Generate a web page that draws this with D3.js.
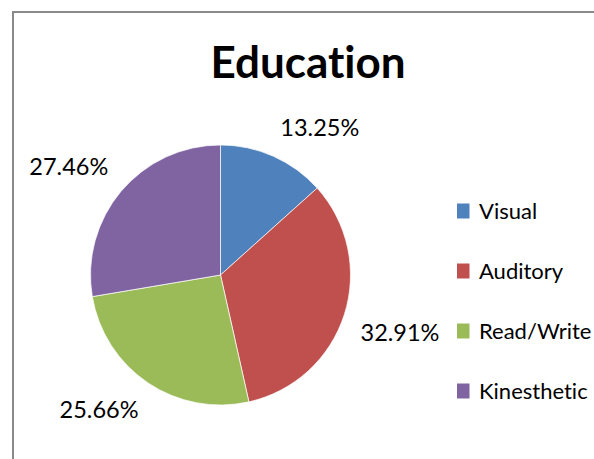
<!DOCTYPE html>
<html>
<head>
<meta charset="utf-8">
<script src="https://cdn.jsdelivr.net/npm/d3@7"></script>
<style>
  html, body { margin: 0; padding: 0; background: #fff; }
  svg { display: block; font-family: Lato, "Open Sans", sans-serif; font-variant-ligatures: none; }
</style>
</head>
<body>
<div id="chart"></div>
<script>
// Education - learning style pie
const categories = ['Visual', 'Auditory', 'Read/Write', 'Kinesthetic'];
const shares = [13.25, 32.91, 25.66, 27.46];
const sliceColors = ['#4F81BD', '#C0504D', '#9BBB59', '#8064A2'];

const width = 594, height = 459;
const cx = 220.5, cy = 275, radius = 130;

const data = categories.map((c, i) => ({ name: c, value: shares[i] }));

const svg = d3.select('#chart').append('svg')
    .attr('width', width)
    .attr('height', height);

// chart area frame (cropped on right and bottom)
svg.append('rect')
    .attr('x', 13)
    .attr('y', 12)
    .attr('width', width + 20)
    .attr('height', height + 20)
    .attr('fill', '#fff')
    .attr('stroke', '#8a8a8a')
    .attr('stroke-width', 2);

svg.append('text')
    .attr('x', 308)
    .attr('y', 78)
    .attr('text-anchor', 'middle')
    .style('font-size', '44px')
    .style('font-weight', '700')
    .style('fill', '#000')
    .text('Education');

const color = d3.scaleOrdinal().domain(categories).range(sliceColors);

const pie = d3.pie().sort(null).value(d => d.value);
const arcs = pie(data);
const arc = d3.arc().innerRadius(0).outerRadius(radius);

const g = svg.append('g')
    .attr('transform', `translate(${cx},${cy})`);

g.selectAll('path.slice')
    .data(arcs)
    .enter()
    .append('path')
    .attr('class', 'slice')
    .attr('d', arc)
    .attr('fill', d => color(d.data.name))
    .attr('stroke', '#fff')
    .attr('stroke-width', 0.7);

// outside-end labels: nearest corner of the label box sits on the mid angle
const labelR = radius + 17;
const labels = g.selectAll('text.pct')
    .data(arcs)
    .enter()
    .append('text')
    .attr('class', 'pct')
    .attr('text-anchor', 'middle')
    .attr('dy', '0.35em')
    .style('font-size', '23.5px')
    .style('fill', '#000')
    .text(d => d.data.value.toFixed(2) + '%');

labels.each(function(d) {
    const a = (d.startAngle + d.endAngle) / 2;
    const s = Math.sin(a), c = Math.cos(a);
    const w = this.getComputedTextLength();
    const h = 26;
    const px = labelR * s, py = -labelR * c;
    d3.select(this)
        .attr('x', px + Math.sign(s) * w / 2)
        .attr('y', py - Math.sign(c) * h / 2);
});

// legend
const legend = svg.append('g')
    .attr('transform', 'translate(457, 211)');

const rowStep = 60;
const items = legend.selectAll('g.item')
    .data(categories)
    .enter()
    .append('g')
    .attr('class', 'item')
    .attr('transform', (d, i) => `translate(0, ${i * rowStep})`);

items.append('rect')
    .attr('x', 0)
    .attr('y', -7.5)
    .attr('width', 12.5)
    .attr('height', 15)
    .attr('fill', d => color(d));

items.append('text')
    .attr('x', 22)
    .attr('dy', '0.35em')
    .style('font-size', '22px')
    .style('fill', '#000')
    .text(d => d);
</script>
</body>
</html>
